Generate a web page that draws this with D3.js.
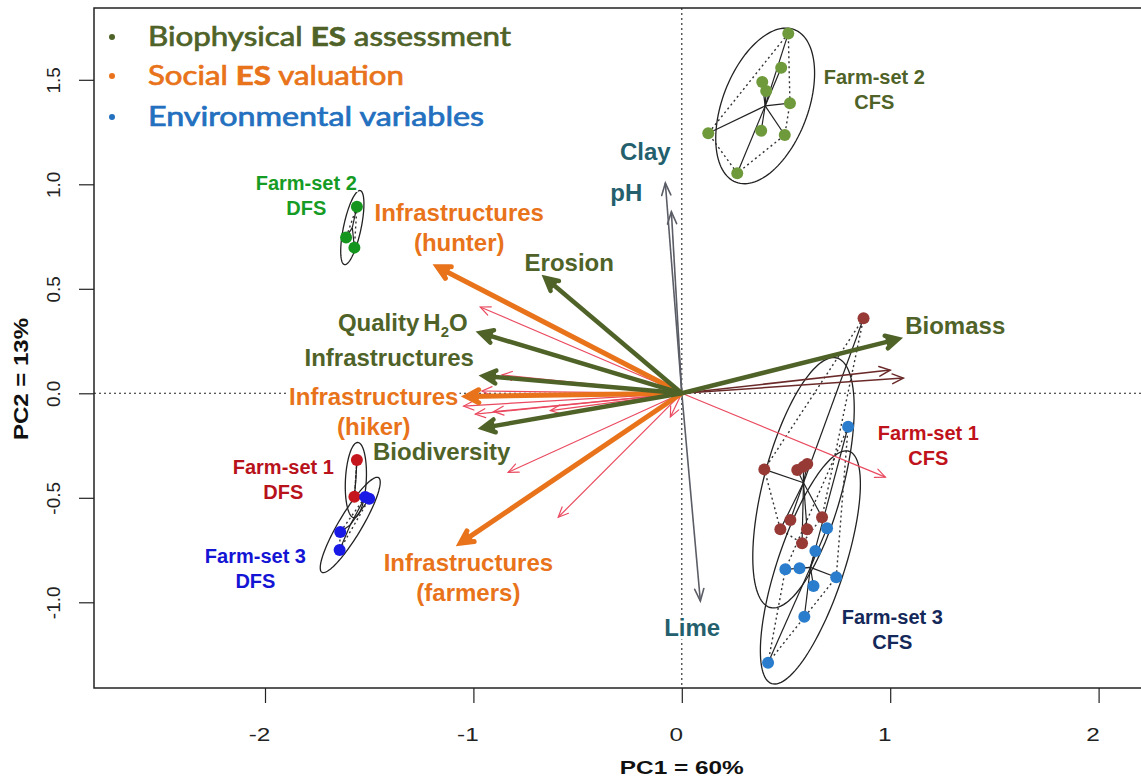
<!DOCTYPE html>
<html>
<head>
<meta charset="utf-8">
<script src="https://cdn.jsdelivr.net/npm/d3@7"></script>
<style>
  html, body { margin: 0; padding: 0; background: #fff; overflow: hidden; }
  svg { display: block; }
</style>
</head>
<body>
<svg id="chart" width="1141" height="778"></svg>
<script>
// ---------------- data ----------------
const xTicks = [-2, -1, 0, 1, 2];
const yTicks = [-1.0, -0.5, 0.0, 0.5, 1.0, 1.5];
const xTitle = "PC1 = 60%";
const yTitle = "PC2 = 13%";

// legend entries: [plain part, bold part, plain part]
const legendParts = [
  ["Biophysical ", "ES", " assessment"],
  ["Social ", "ES", " valuation"],
  ["Environmental variables", "", ""]
];

// biophysical ES loadings (thick olive arrows)
const bioNames = ["Erosion", "QualityH2O", "Infrastructures", "Biodiversity", "Biomass"];
const bioX = [-0.655, -0.967, -0.952, -0.957, 1.039];
const bioY = [0.552, 0.289, 0.083, -0.166, 0.260];

// social ES valuation summaries (thick orange arrows)
const socialNames = ["Infrastructures (hunter)", "Infrastructures (hiker)", "Infrastructures (farmers)"];
const socialX = [-1.173, -1.034, -1.063];
const socialY = [0.605, -0.015, -0.717];

// individual social valuation items (thin red arrows)
const itemX = [-0.967, -0.863, -0.959, -1.047, -0.991, -0.903, -0.631, -0.833, -0.593, -0.055, 0.977];
const itemY = [0.413, 0.088, 0.011, -0.061, -0.100, -0.088, -0.083, -0.378, -0.593, -0.113, -0.401];

// further biophysical items (thin maroon arrows)
const extraX = [1.000, 1.063];
const extraY = [0.111, 0.073];

// environmental variables (grey arrows)
const envNames = ["Clay", "pH", "Lime"];
const envX = [-0.079, -0.050, 0.089];
const envY = [1.006, 0.869, -0.994];

// farm scores per farm-set and farming system
const fs2cfsX = [0.511, 0.477, 0.386, 0.405, 0.519, 0.381, 0.494, 0.127, 0.266];
const fs2cfsY = [1.722, 1.558, 1.489, 1.446, 1.388, 1.256, 1.236, 1.244, 1.053];
const fs2dfsX = [-1.559, -1.611, -1.571];
const fs2dfsY = [0.893, 0.746, 0.697];
const fs1dfsX = [-1.559, -1.571];
const fs1dfsY = [-0.319, -0.495];
const fs3dfsX = [-1.500, -1.519, -1.639, -1.642];
const fs3dfsY = [-0.505, -0.496, -0.664, -0.750];
const fs1cfsX = [0.872, 0.396, 0.554, 0.583, 0.602, 0.521, 0.473, 0.601, 0.673, 0.577];
const fs1cfsY = [0.359, -0.364, -0.367, -0.352, -0.338, -0.606, -0.651, -0.651, -0.593, -0.718];
const fs3cfsX = [0.798, 0.697, 0.641, 0.497, 0.565, 0.632, 0.741, 0.588, 0.414];
const fs3cfsY = [-0.160, -0.646, -0.755, -0.842, -0.837, -0.922, -0.880, -1.069, -1.289];

const groupKeys   = ["fs2cfs", "fs2dfs", "fs1dfs", "fs3dfs", "fs1cfs", "fs3cfs"];
const groupTitles = ["Farm-set 2", "Farm-set 2", "Farm-set 1", "Farm-set 3", "Farm-set 1", "Farm-set 3"];
const groupSystem = ["CFS", "DFS", "DFS", "DFS", "CFS", "CFS"];
// class centres and inertia ellipses (semi-axes in PC units, angle in degrees)
const centreX = [0.400, -1.581, -1.564, -1.591, 0.584, 0.617];
const centreY = [1.375, 0.793, -0.415, -0.630, -0.428, -0.833];
const ellA = [0.391, 0.181, 0.180, 0.264, 0.618, 0.586];
const ellB = [0.205, 0.042, 0.050, 0.055, 0.190, 0.160];
const ellAngle = [69, 78, 87, 59, 75, 71.5];
// where each class label sits (PC units)
const groupLabelX = [0.924, -1.802, -1.912, -2.046, 1.183, 1.010];
const groupLabelY = [1.513, 1.006, -0.353, -0.779, -0.190, -1.070];

// loading labels
const loadLabelText = [["Infrastructures", "(hunter)"], ["Erosion"], ["QualityH2O"], ["Infrastructures"],
  ["Infrastructures", "(hiker)"], ["Biodiversity"], ["Infrastructures", "(farmers)"],
  ["Clay"], ["pH"], ["Lime"], ["Biomass"]];
const loadLabelKind = ["social", "bio", "bio", "bio", "social", "bio", "social", "env", "env", "env", "bio"];
const loadLabelX = [-1.068, -0.540, -1.339, -1.404, -1.478, -1.152, -1.024, -0.175, -0.266, 0.050, 1.312];
const loadLabelY = [0.863, 0.623, 0.337, 0.169, -0.018, -0.280, -0.812, 1.155, 0.959, -1.123, 0.322];

// ---------------- styling ----------------
const colBio = "#4f6228", colSocial = "#e8731a", colEnvLegend = "#2370bf", colEnv = "#245f6e";
const colItem = "#ea4a60", colExtra = "#6b2a2a", colEnvArrow = "#5b5d66";
const groupLabelCol = ["#4f6228", "#169c25", "#b8121b", "#1414d4", "#c0121b", "#14285a"];
const groupPointCol = ["#6f9a3c", "#14961e", "#c4161c", "#1a1ae6", "#973a36", "#2a7dcc"];
const kindCol = { bio: colBio, social: colSocial, env: colEnv };
const labelFont = "'Liberation Sans', Arial, sans-serif";

// ---------------- layout ----------------
const frame = { left: 94, top: 8, right: 1150, bottom: 688 };
const x = d3.scaleLinear().domain([-2, 2]).range([265, 1098.6]);
const y = d3.scaleLinear().domain([-1, 1.5]).range([602.3, 79.8]);

const svg = d3.select("#chart");

// plot frame
svg.append("rect")
  .attr("x", frame.left).attr("y", frame.top)
  .attr("width", frame.right - frame.left).attr("height", frame.bottom - frame.top)
  .attr("fill", "none").attr("stroke", "#222").attr("stroke-width", 1.5);

// dotted zero lines
svg.append("line")
  .attr("x1", frame.left).attr("x2", frame.right).attr("y1", y(0)).attr("y2", y(0))
  .attr("stroke", "#222").attr("stroke-width", 1.1).attr("stroke-dasharray", "2,3");
svg.append("line")
  .attr("x1", x(0)).attr("x2", x(0)).attr("y1", frame.top).attr("y2", frame.bottom)
  .attr("stroke", "#222").attr("stroke-width", 1.1).attr("stroke-dasharray", "2,3");

// axes
const gx = svg.append("g").attr("transform", `translate(0,${frame.bottom})`)
  .call(d3.axisBottom(x).tickValues(xTicks).tickSize(15).tickFormat(d => String(d)));
gx.select(".domain").remove();
gx.selectAll(".tick line").attr("stroke", "#222").attr("stroke-width", 1.2);
gx.selectAll(".tick text")
  .attr("y", 47).attr("dy", "0.35em").attr("dx", -6)
  .attr("fill", "#222").style("font", `18px ${labelFont}`)
  .each(function () {
    const w = this.getComputedTextLength();
    d3.select(this).attr("textLength", w * 1.35).attr("lengthAdjust", "spacingAndGlyphs");
  });

const gy = svg.append("g").attr("transform", `translate(${frame.left},0)`)
  .call(d3.axisLeft(y).tickValues(yTicks).tickSize(15).tickFormat(d => d.toFixed(1)));
gy.select(".domain").remove();
gy.selectAll(".tick line").attr("stroke", "#222").attr("stroke-width", 1.2);
gy.selectAll(".tick text")
  .attr("x", 0).attr("dy", "0.35em")
  .attr("transform", "translate(-41,0) rotate(-90)")
  .attr("text-anchor", "middle")
  .attr("fill", "#222").style("font", `19px ${labelFont}`);

// axis titles
svg.append("text")
  .attr("x", x(0)).attr("y", 768).attr("dy", "0.35em").attr("text-anchor", "middle")
  .style("font", `bold 18px ${labelFont}`).attr("fill", "#111")
  .attr("textLength", 124).attr("lengthAdjust", "spacingAndGlyphs")
  .text(xTitle);
svg.append("text")
  .attr("transform", "translate(21,379) rotate(-90)")
  .attr("dy", "0.35em").attr("text-anchor", "middle")
  .style("font", `bold 20px ${labelFont}`).attr("fill", "#111")
  .attr("textLength", 122).attr("lengthAdjust", "spacingAndGlyphs")
  .text(yTitle);

// ---------------- farm classes ----------------
const groupX = { fs2cfs: fs2cfsX, fs2dfs: fs2dfsX, fs1dfs: fs1dfsX, fs3dfs: fs3dfsX, fs1cfs: fs1cfsX, fs3cfs: fs3cfsX };
const groupY = { fs2cfs: fs2cfsY, fs2dfs: fs2dfsY, fs1dfs: fs1dfsY, fs3dfs: fs3dfsY, fs1cfs: fs1cfsY, fs3cfs: fs3cfsY };

const gClass = svg.append("g");
const ellLine = d3.line().x(d => x(d[0])).y(d => y(d[1])).curve(d3.curveLinearClosed);

groupKeys.forEach((k, i) => {
  const pts = groupX[k].map((v, j) => [v, groupY[k][j]]);
  const cx = centreX[i], cy = centreY[i];
  // ellipse outline in PC space
  const th = ellAngle[i] * Math.PI / 180;
  const ring = d3.range(0, 120).map(s => {
    const t = s / 120 * 2 * Math.PI;
    const u = ellA[i] * Math.cos(t), v = ellB[i] * Math.sin(t);
    return [cx + u * Math.cos(th) - v * Math.sin(th), cy + u * Math.sin(th) + v * Math.cos(th)];
  });
  gClass.append("path").attr("d", ellLine(ring))
    .attr("fill", "none").attr("stroke", "#222").attr("stroke-width", 1.3);

  // dotted convex hull
  const pix = pts.map(p => [x(p[0]), y(p[1])]);
  const hull = pix.length >= 3 ? d3.polygonHull(pix) : pix;
  gClass.append("path").attr("d", "M" + hull.join("L") + "Z")
    .attr("fill", "none").attr("stroke", "#333").attr("stroke-width", 1.4)
    .attr("stroke-dasharray", "2,3");

  // star from class centre
  pts.forEach(p => {
    gClass.append("line")
      .attr("x1", x(cx)).attr("y1", y(cy)).attr("x2", x(p[0])).attr("y2", y(p[1]))
      .attr("stroke", "#222").attr("stroke-width", 1.2);
  });
});

groupKeys.forEach((k, i) => {
  const pts = groupX[k].map((v, j) => [v, groupY[k][j]]);
  gClass.selectAll(null).data(pts).enter().append("circle")
    .attr("cx", d => x(d[0])).attr("cy", d => y(d[1])).attr("r", 6)
    .attr("fill", groupPointCol[i]);
});

// ---------------- arrows ----------------
const gArrow = svg.append("g");
function arrow(tx, ty, color, width, head, ang) {
  const x0 = x(0), y0 = y(0), x1 = x(tx), y1 = y(ty);
  const a = Math.atan2(y1 - y0, x1 - x0);
  const back = width > 3 ? width * 0.8 : 0;
  gArrow.append("line")
    .attr("x1", x0).attr("y1", y0)
    .attr("x2", x1 - back * Math.cos(a)).attr("y2", y1 - back * Math.sin(a))
    .attr("stroke", color).attr("stroke-width", width);
  const p1 = [x1 - head * Math.cos(a - ang), y1 - head * Math.sin(a - ang)];
  const p2 = [x1 - head * Math.cos(a + ang), y1 - head * Math.sin(a + ang)];
  gArrow.append("path").attr("d", `M${p1}L${x1},${y1}L${p2}`)
    .attr("fill", width > 3 ? color : "none").attr("stroke", color).attr("stroke-width", width)
    .attr("stroke-linejoin", "miter").attr("stroke-linecap", "round");
}
itemX.forEach((v, i) => arrow(v, itemY[i], colItem, 1.2, 11, 0.42));
extraX.forEach((v, i) => arrow(v, extraY[i], colExtra, 1.5, 12, 0.42));
envX.forEach((v, i) => arrow(v, envY[i], colEnvArrow, 1.6, 13, 0.36));
socialX.forEach((v, i) => arrow(v, socialY[i], colSocial, 5, 14, 0.48));
bioX.forEach((v, i) => arrow(v, bioY[i], colBio, 4.5, 14, 0.48));

// ---------------- labels ----------------
const gLab = svg.append("g");
function addLabel(lines, px, py, color, size, lineGap) {
  lines.forEach((txt, j) => {
    const t = gLab.append("text")
      .attr("x", px).attr("y", py + j * lineGap).attr("dy", "0.35em")
      .attr("text-anchor", "middle").attr("fill", color)
      .style("font", `bold ${size}px ${labelFont}`);
    if (txt === "QualityH2O") {
      t.append("tspan").text("Quality");
      t.append("tspan").attr("dx", 4).text("H");
      t.append("tspan").attr("dy", 6).style("font-size", `${size * 0.62}px`).text("2");
      t.append("tspan").attr("dy", -6).text("O");
    } else {
      t.text(txt);
    }
    const b = t.node().getBBox();
    gLab.insert("rect", () => t.node())
      .attr("x", b.x - 1).attr("y", b.y + 2).attr("width", b.width + 2).attr("height", b.height - 4)
      .attr("fill", "#fff");
  });
}
loadLabelText.forEach((lines, i) => {
  addLabel(lines, x(loadLabelX[i]), y(loadLabelY[i]), kindCol[loadLabelKind[i]], 24, 30);
});
groupKeys.forEach((k, i) => {
  addLabel([groupTitles[i], groupSystem[i]], x(groupLabelX[i]), y(groupLabelY[i]), groupLabelCol[i], 20, 25);
});

// ---------------- legend ----------------
const legendCols = [colBio, colSocial, colEnvLegend];
const legendRowY = [37, 76, 117];
const legendWidth = [363, 256, 336];
const gLeg = svg.append("g");
legendParts.forEach((parts, i) => {
  gLeg.append("circle").attr("cx", 112).attr("cy", legendRowY[i]).attr("r", 3).attr("fill", legendCols[i]);
  const t = gLeg.append("text")
    .attr("x", 148).attr("y", legendRowY[i]).attr("dy", "0.35em")
    .attr("fill", legendCols[i]).attr("stroke", legendCols[i]).attr("stroke-width", 0.7)
    .style("font", "26px Lato, 'Open Sans', sans-serif")
    .attr("textLength", legendWidth[i]).attr("lengthAdjust", "spacingAndGlyphs");
  t.append("tspan").text(parts[0]);
  if (parts[1]) t.append("tspan").style("font-weight", "bold").text(parts[1]);
  if (parts[2]) t.append("tspan").text(parts[2]);
});
</script>
</body>
</html>
